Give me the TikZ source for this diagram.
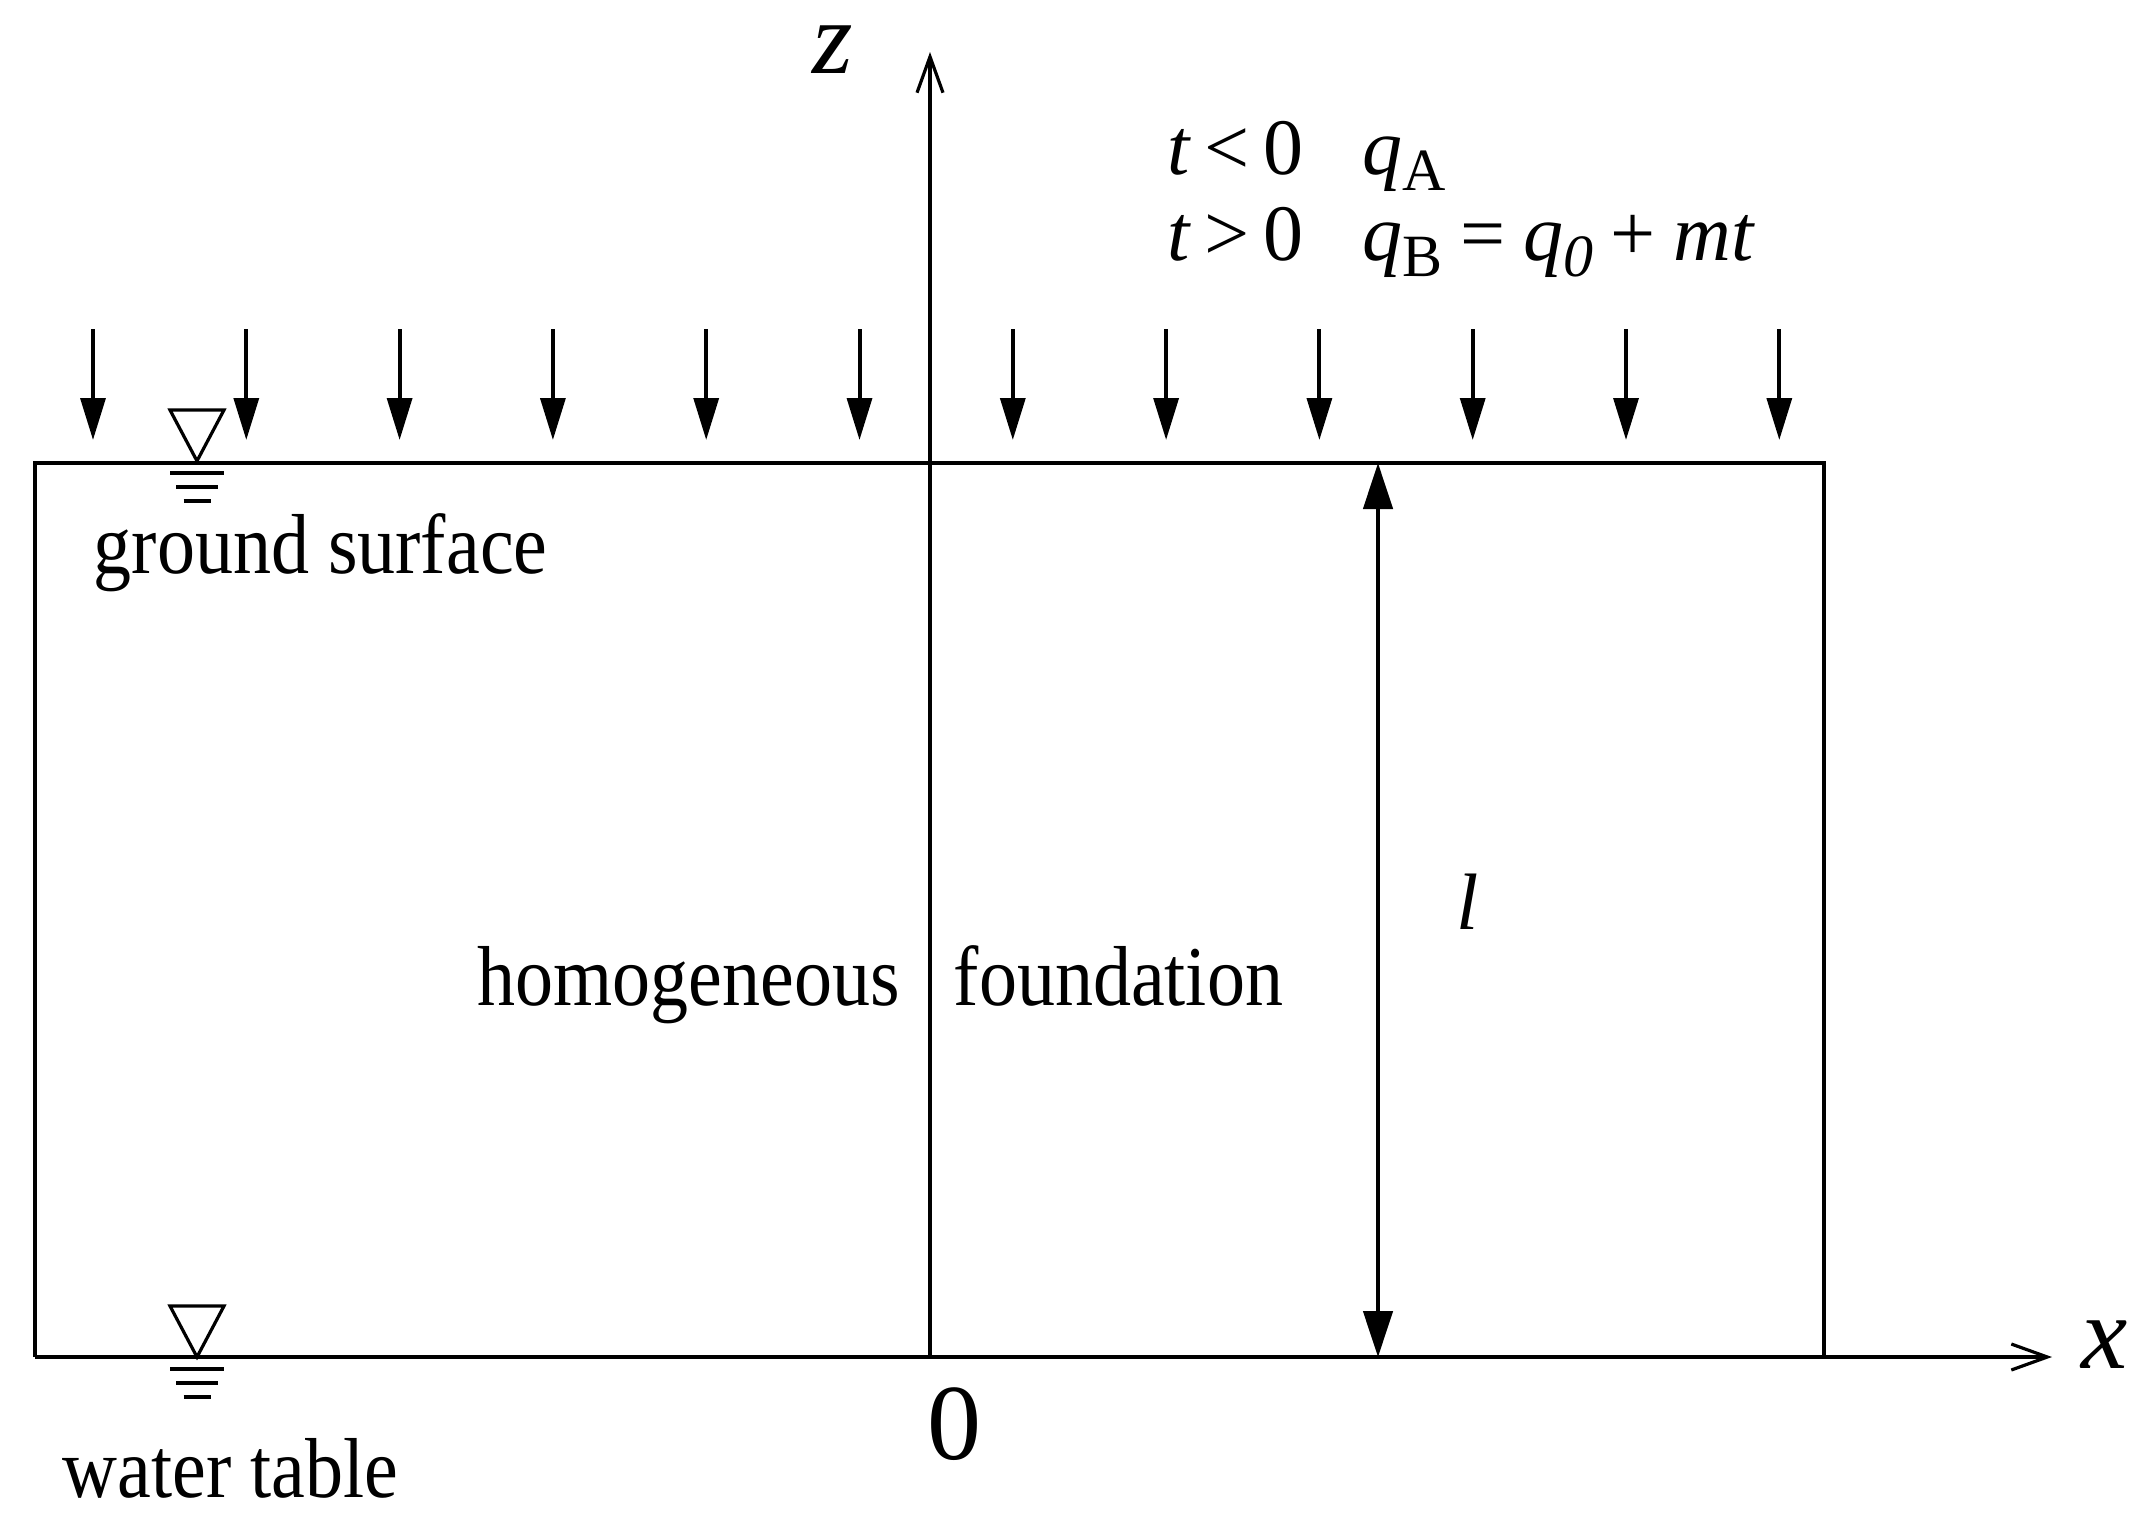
\documentclass[tikz,border=0pt]{standalone}
\usepackage{fontspec}
\setmainfont{Liberation Serif}
\usetikzlibrary{arrows.meta}
\newcommand\stt[1]{\scalebox{1}[1.12]{#1}}
\newcommand\sbs[1]{\raisebox{-0.2em}{\fontsize{15}{17}\selectfont #1}}
\begin{document}
\begin{tikzpicture}[x=0.25pt,y=-0.25pt,
  body/.style={font=\fontsize{19}{22}\selectfont, inner sep=0pt, anchor=base west},
  eqn/.style={font=\fontsize{20}{24}\selectfont, inner sep=0pt, anchor=base west},
  biglbl/.style={font=\fontsize{26}{30}\selectfont, inner sep=0pt},
  frame/.style={line width=0.8pt},
  load/.style={line width=1pt, -{Triangle[length=10.5pt,width=6.2pt]}},
  axis/.style={line width=0.8pt, -{Straight Barb[length=9pt,width=6.5pt,line width=0.8pt]}},
  dim/.style={line width=1pt, {Triangle[length=11.5pt,width=7.3pt]}-{Triangle[length=11.5pt,width=7.3pt]}},
  wt/.pic={
    \draw[line width=0.8pt, line join=miter] (-27,-51) -- (27,-51) -- (0,0) -- cycle;
    \draw[line width=0.9pt] (-27,12) -- (27,12) (-21,26) -- (21,26) (-13.5,40) -- (13.5,40);
  }]
\useasboundingbox (0,0) rectangle (2150,1520);
% frame
\coordinate (TL) at (35,463);
\coordinate (TR) at (1824,463);
\coordinate (BR) at (1824,1357);
\coordinate (BL) at (35,1357);
\draw[frame] (BL) -- (TL) -- (TR) -- (BR);
% axes
\coordinate (xend) at (2052,1357);
\coordinate (O) at (930,1357);
\coordinate (zend) at (930,52);
\draw[axis] (BL) -- (xend);
\draw[axis] (O) -- (zend);
% loads
\foreach \i in {0,...,11}{
  \coordinate (a\i) at ({93+153.3*\i},329);
  \coordinate (b\i) at ({93+153.3*\i},440);
  \draw[load] (a\i) -- (b\i);
}
% dimension l
\coordinate (lt) at (1378,463);
\coordinate (lb) at (1378,1357);
\draw[dim] (lt) -- (lb);
% water-level symbols
\pic (wta) at (197,461) {wt};
\pic (wtb) at (197,1357) {wt};
% labels
\node[body] (gs) at (93,573) {\stt{ground surface}};
\node[body] (hom) at (477,1005) {\stt{homogeneous}};
\node[body] (fou) at (953,1005) {\stt{foundation}};
\node[body] (wtab) at (62,1497) {\stt{water table}};
\node[biglbl] (zl) at (833,50) {\textit{z}};
\node[biglbl] (xl) at (2105,1345) {\textit{x}};
\node[biglbl, font=\fontsize{27}{30}\selectfont] (zero) at (954,1424) {0};
\node[font=\fontsize{20}{24}\selectfont, inner sep=0pt] (ll) at (1468,902) {\textit{l}};
\node[eqn] (t1) at (1167,174) {\textit{t}\,<\,0};
\node[eqn] (q1) at (1362,174) {\textit{q}\sbs{A}};
\node[eqn] (t2) at (1167,260) {\textit{t}\,>\,0};
\node[eqn] (q2) at (1362,260) {\textit{q}\sbs{B}\hspace{0.22em}=\hspace{0.22em}\textit{q}\sbs{\textit{0}}\hspace{0.22em}+\hspace{0.22em}\textit{mt}};
\end{tikzpicture}
\end{document}
